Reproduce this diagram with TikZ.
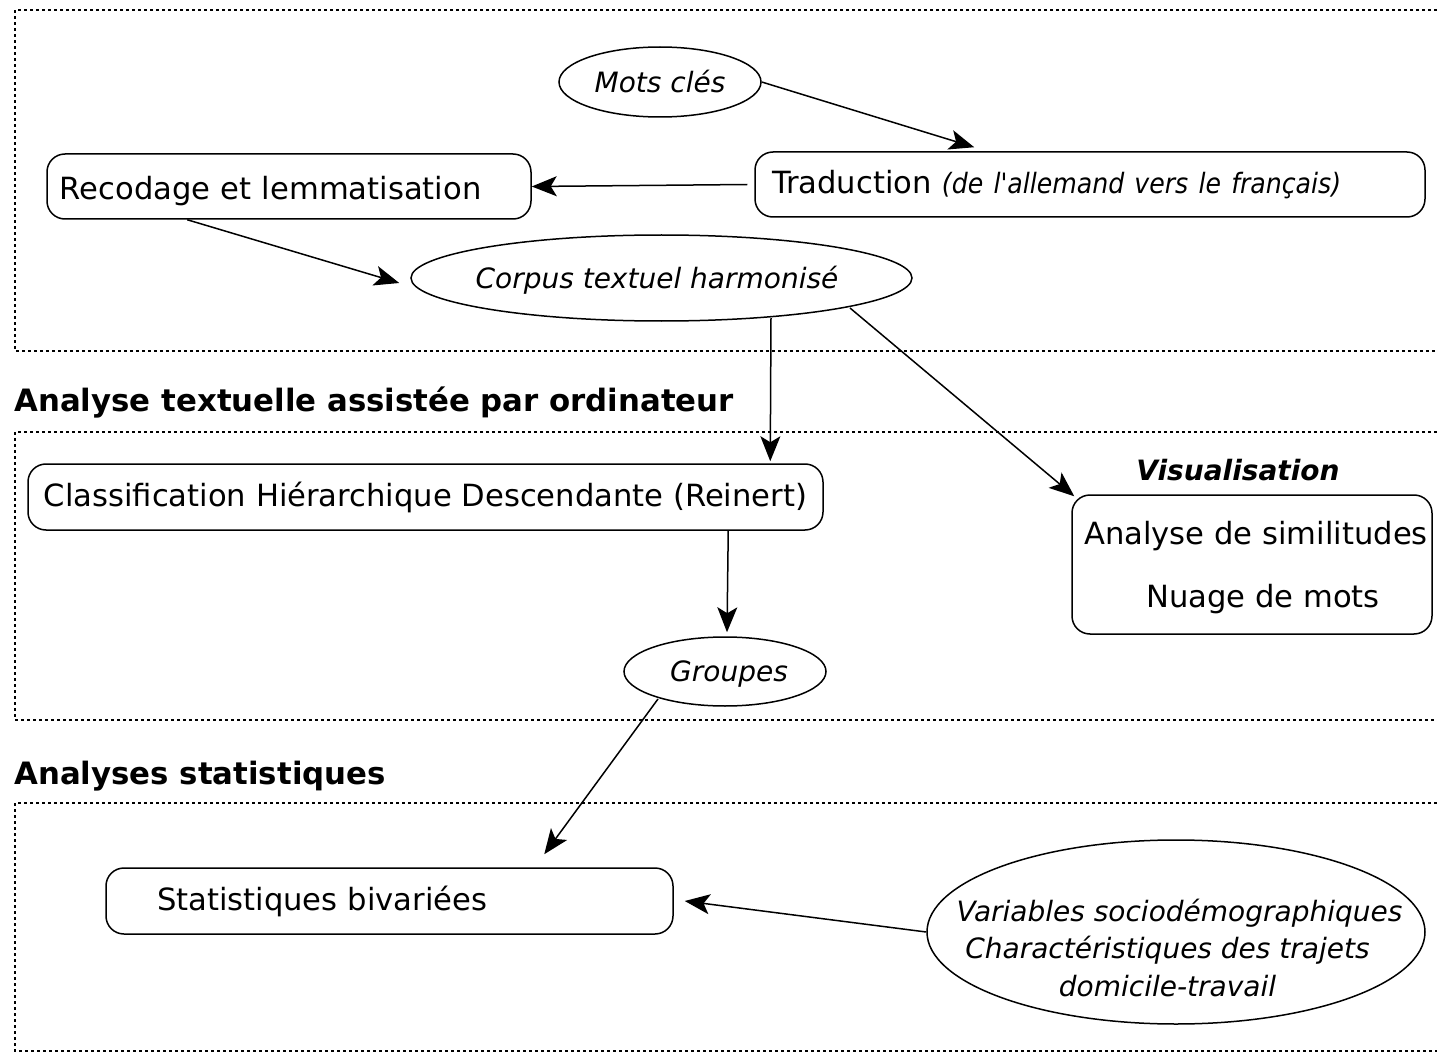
\documentclass[tikz,border=0pt]{standalone}
\usepackage{fontspec}
\setmainfont{DejaVu Sans}
\newfontfamily\condfont{DejaVu Sans Condensed}
\usetikzlibrary{shapes.geometric,arrows.meta,calc}
\begin{document}
\begin{tikzpicture}[x=0.5pt,y=-0.5pt,
  every node/.style={font=\fontsize{15.3}{18}\selectfont},
  rbox/.style={draw,rectangle,rounded corners=9pt,line width=0.75pt},
  ell/.style={draw,ellipse,inner sep=0pt,line width=0.75pt,font=\fontsize{14}{18.75}\selectfont\itshape,align=center},
  itxt/.style={inner sep=0pt,font=\fontsize{14}{18.75}\selectfont\itshape,align=center},
  frame/.style={line width=0.6pt,dash pattern=on 1.5pt off 1.5pt},
  head/.style={anchor=west,inner sep=0pt,font=\fontsize{15.4}{18}\selectfont\bfseries},
  arr/.style={line width=0.75pt,-{Stealth[length=12.5pt,width=10pt,inset=3pt]}}]
\useasboundingbox (0,0) rectangle (1437,1054);
% frames
\draw[frame] (1437,10) -- (15,10) -- (15,351) -- (1437,351);
\draw[frame] (1437,432) -- (15,432) -- (15,720) -- (1437,720);
\draw[frame] (1437,803) -- (15,803) -- (15,1051) -- (1437,1051);
% headers
\node[head] (h1) at (14,403) {Analyse textuelle assistée par ordinateur};
\node[head] (h2) at (14,776) {Analyses statistiques};
% nodes
\node[ell,minimum width=101pt,minimum height=35pt] (mots) at (660,82) {Mots clés};
\node[rbox,minimum height=32.5pt,inner xsep=8.5pt,text width=318pt,align=left] (trad) at (1090,184.5)
  {Traduction {\condfont\itshape\fontsize{14}{18}\selectfont(de l'allemand vers le français)}};
\node[rbox,minimum height=32.5pt,inner xsep=6.5pt,text width=229pt,align=left,text height=14pt,text depth=1pt] (rec) at (289,186.5) {Recodage et lemmatisation};
\node[ell,minimum width=250.5pt,minimum height=43pt] (corp) at (661.5,278) {};
\node[itxt] (corpt) at (657,280) {Corpus textuel harmonisé};
\node[rbox,minimum height=33pt,minimum width=397.5pt] (cls) at (425.5,497) {Classification Hiérarchique Descendante (Reinert)};
\node[ell,minimum width=101pt,minimum height=34.5pt] (grp) at (725,671.5) {};
\node[itxt] (grpt) at (729,674) {Groupes};
\node[inner sep=0pt,font=\fontsize{14}{18}\selectfont\bfseries\itshape] (vis) at (1238,470) {Visualisation};
\node[rbox,minimum width=180pt,minimum height=69.5pt] (ana) at (1252,564.5) {};
\node[inner sep=0pt,align=center,font=\fontsize{15.3}{31.5}\selectfont] (anat) at (1256,567.5)
  {Analyse de similitudes\\\hspace*{7pt}Nuage de mots};
\node[rbox,minimum height=33pt,inner xsep=25.5pt,text width=232.5pt,align=left] (stat) at (389.5,901) {Statistiques bivariées};
\node[ell,minimum width=249pt,minimum height=92pt] (var) at (1176,932) {};
\node[itxt] (vart) at (1167.5,947.5)
  {\hspace*{12pt}Variables sociodémographiques\\Charactéristiques des trajets\\domicile-travail};
% connectors
\draw[arr] (mots.east) -- ($(trad.north west)+(220,-4)$);
\draw[arr] ($(trad.west)+(-7,0)$) -- (rec.east);
\draw[arr] ($(rec.south west)+(141,0)$) -- ($(corp.west)+(-11,5)$);
\draw[arr] ($(corp.center)+(109.5,40)$) -- ($(cls.north west)+(743,-2)$);
\draw[arr] ($(corp.center)+(188.5,30)$) -- ($(ana.north west)+(3,2)$);
\draw[arr] ($(cls.south west)+(701,0)$) -- ($(grp.north)+(2,-4)$);
\draw[arr] ($(grp.center)+(-67,27.5)$) -- ($(stat.north west)+(439,-13)$);
\draw[arr] (var.west) -- ($(stat.east)+(11,0)$);
\end{tikzpicture}
\end{document}
